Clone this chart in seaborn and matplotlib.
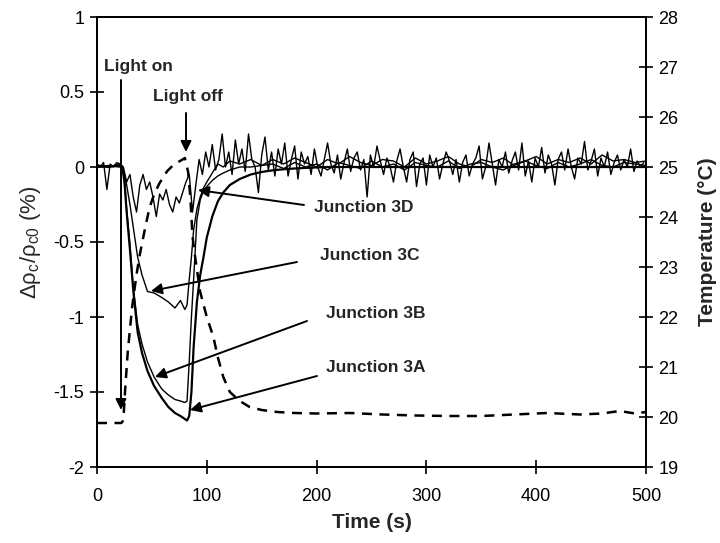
import numpy as np
import pandas as pd
import matplotlib
matplotlib.use("Agg")
import matplotlib.pyplot as plt
import seaborn as sns

sns.set_theme(style="white")
plt.rcParams['font.family'] = ['Liberation Sans', 'DejaVu Sans']
plt.rcParams['mathtext.fontset'] = 'custom'
plt.rcParams['mathtext.rm'] = 'Liberation Sans'
plt.rcParams['mathtext.it'] = 'Liberation Sans:italic'
plt.rcParams['mathtext.bf'] = 'Liberation Sans:bold'

# ---- data ----
t_main = [0, 10, 20, 23, 25, 27, 30, 33, 37, 41, 46, 52, 59, 65, 71, 76, 80, 82, 84, 86,
          88, 91, 94, 97, 100, 105, 110, 115, 121, 130, 140, 150,
          160, 170, 180, 190, 200, 210, 220, 230, 240, 250, 260, 270, 280, 290, 300,
          310, 320, 330, 340, 350, 360, 370, 380, 390, 400, 410, 420, 430, 440, 450,
          460, 470, 480, 490, 500]

j3a = [0.01, 0.0, 0.01, 0.0, -0.1, -0.3, -0.55, -0.82, -1.1, -1.24, -1.36, -1.46, -1.54, -1.6, -1.64, -1.66, -1.68, -1.69, -1.66, -1.5,
       -1.2, -0.9, -0.72, -0.6, -0.47, -0.33, -0.23, -0.17, -0.12, -0.08, -0.05, -0.033,
       -0.022, -0.015, -0.01, -0.006, -0.003, 0.0, 0.0, 0.0, 0.0, 0.0, 0.0, 0.0, 0.0, 0.0, 0.0,
       0.0, 0.0, 0.0, 0.0, 0.0, 0.0, 0.0, 0.0, 0.0, 0.0, 0.0, 0.0, 0.0, 0.0, 0.0,
       0.0, 0.0, 0.0, 0.0, 0.0]

j3b = [0.0, 0.01, 0.0, 0.0, -0.08, -0.28, -0.52, -0.8, -1.05, -1.18, -1.3, -1.4, -1.48, -1.52, -1.55, -1.56, -1.57, -1.56, -1.3, -1.0,
       -0.75, -0.35, -0.22, -0.16, -0.13, -0.09, -0.06, -0.04, -0.02, 0.0, 0.0, 0.01,
       0.02, -0.01, 0.03, 0.0, 0.02, -0.02, 0.03, 0.01, -0.01, 0.04, 0.0, 0.02, -0.02, 0.03, 0.01,
       0.0, 0.04, -0.01, 0.02, 0.03, 0.0, -0.02, 0.02, 0.04, 0.01, -0.01, 0.03, 0.0, 0.02, 0.05,
       0.01, 0.0, 0.03, 0.02, 0.01]

j3c = [0.01, 0.0, 0.02, 0.0, -0.05, -0.12, -0.25, -0.4, -0.6, -0.72, -0.83, -0.84, -0.87, -0.9, -0.94, -0.89, -0.95, -0.92, -0.75, -0.6,
       -0.42, -0.28, -0.2, -0.14, -0.1, -0.04, 0.02, 0.0, 0.04, 0.02, 0.05, 0.01,
       0.05, 0.02, 0.06, 0.03, 0.0, 0.05, 0.02, 0.07, 0.03, 0.01, 0.05, 0.04, 0.0, 0.06, 0.02,
       0.04, 0.07, 0.02, 0.0, 0.05, 0.03, 0.06, 0.01, 0.04, 0.07, 0.02, 0.05, 0.03, 0.06, 0.02,
       0.08, 0.04, 0.05, 0.03, 0.04]

t_3d = np.arange(0, 499, 3)
j3d = [0.02, 0.0, 0.03, -0.15, 0.02, 0.0, 0.03, 0.02, 0.0, -0.1,
       -0.05, -0.2, -0.3, -0.12, -0.05, -0.15, -0.1, -0.2, -0.33, -0.18,
       -0.22, -0.15, -0.25, -0.3, -0.2, -0.24, -0.17, -0.1, -0.05, -0.3,
       -0.12, 0.05, -0.05, 0.1, 0.0, 0.15, -0.02, 0.05, 0.22, 0.0,
       0.1, -0.05, 0.18, 0.02, 0.12, -0.03, 0.22, 0.05, 0.0, -0.17,
       0.08, 0.2, -0.02, 0.1, -0.06, 0.12, 0.02, 0.16, -0.06, 0.05,
       0.14, -0.08, 0.1, 0.02, 0.07, -0.05, 0.12, 0.0, -0.06, 0.05,
       0.16, 0.02, -0.04, 0.08, -0.08, 0.03, 0.12, -0.03, 0.06, 0.1,
       -0.02, 0.05, -0.2, 0.08, 0.0, 0.14, 0.04, -0.05, 0.06, 0.0,
       -0.1, 0.04, 0.12, 0.0, -0.1, 0.05, 0.1, -0.13, 0.02, 0.06,
       -0.12, 0.08, 0.0, 0.06, -0.08, 0.02, 0.1, 0.04, -0.05, 0.05,
       -0.1, 0.03, 0.08, -0.06, 0.02, 0.06, 0.14, -0.08, 0.0, 0.16,
       0.02, -0.12, 0.05, 0.0, 0.1, -0.04, 0.04, 0.1, -0.02, 0.16,
       -0.06, 0.04, -0.1, 0.06, 0.0, 0.13, -0.04, 0.08, 0.02, -0.12,
       0.05, 0.1, -0.02, 0.12, 0.0, -0.08, 0.06, 0.02, 0.17, -0.02,
       0.04, 0.12, -0.06, 0.06, 0.0, 0.1, -0.05, 0.03, 0.08, -0.02,
       0.05, 0.0, 0.12, -0.03, 0.04, 0.0, 0.03]

t_temp = [0, 10, 20, 22, 23, 24, 25.5, 28, 32, 36, 39, 44, 48, 52, 57, 64, 70, 74, 78, 80,
          83, 85, 87, 90, 94, 100, 106, 110, 115, 121, 130, 139, 150, 164, 180, 200, 230,
          260, 290, 320, 350, 380, 410, 440, 460, 476, 490, 500]
temp = [19.88, 19.88, 19.88, 19.88, 19.9, 19.94, 20.5, 21.3, 22.2, 22.85, 23.25, 23.8, 24.2, 24.45, 24.68, 24.92, 25.05, 25.1, 25.15, 25.18,
        24.9, 24.4, 23.6, 23.1, 22.5, 22.0, 21.6, 21.2, 20.8, 20.5, 20.32, 20.2, 20.14, 20.1, 20.08, 20.07, 20.08,
        20.05, 20.03, 20.02, 20.02, 20.05, 20.08, 20.05, 20.07, 20.12, 20.07, 20.1]

x_ticks = [0, 100, 200, 300, 400, 500]
y_ticks = [-2, -1.5, -1, -0.5, 0, 0.5, 1]
y_tick_labels = ["-2", "-1.5", "-1", "-0.5", "0", "0.5", "1"]
t_ticks = list(range(19, 29))

# ---- figure ----
fig = plt.figure(figsize=(7.2, 5.43), dpi=100)
ax = fig.add_axes([97/720, 1 - 467/543, (646-97)/720, (467-17)/543])
ax2 = ax.twinx()

sns.lineplot(x=t_3d, y=j3d, ax=ax, color='black', lw=1.0, estimator=None)
sns.lineplot(x=t_main, y=j3c, ax=ax, color='black', lw=1.0, estimator=None)
sns.lineplot(x=t_main, y=j3b, ax=ax, color='black', lw=1.0, estimator=None)
sns.lineplot(x=t_main, y=j3a, ax=ax, color='black', lw=1.6, estimator=None)
sns.lineplot(x=t_temp, y=temp, ax=ax2, color='black', lw=1.8, estimator=None,
             linestyle=(0, (4, 3)))

ax.set_xlim(0, 500)
ax.set_ylim(-2, 1)
ax2.set_ylim(19, 28)
ax.set_xticks(x_ticks)
ax.set_xticklabels([str(v) for v in x_ticks])
ax.set_yticks(y_ticks)
ax.set_yticklabels(y_tick_labels)
ax2.set_yticks(t_ticks)
ax2.set_yticklabels([str(v) for v in t_ticks])

for a in (ax, ax2):
    for s in a.spines.values():
        s.set_color('black')
        s.set_linewidth(1.4)
ax.tick_params(axis='both', direction='inout', length=10, width=1.2, colors='black',
               labelsize=13, left=True, bottom=True, pad=4)
ax.tick_params(axis='x', pad=10)
ax2.tick_params(axis='y', direction='inout', length=10, width=1.2, colors='black',
                labelsize=13, right=True, pad=4)

ax.set_xlabel('Time (s)', fontsize=15, fontweight='bold', labelpad=6)
ax.set_ylabel(r'$\mathrm{\Delta\rho_c/\rho_{c0}}$ (%)', fontsize=16, labelpad=8)
ax2.set_ylabel('Temperature (°C)', fontsize=15, fontweight='bold', labelpad=14)

def px(x, y):
    return ((x - 97) / 1.098, 1 - (y - 17) / 150)

ap = dict(arrowstyle='-|>', mutation_scale=16, lw=1.4, color='black', shrinkA=0, shrinkB=0)
fs = 12.5
ax.annotate('', xy=px(121, 410), xytext=px(121, 80), arrowprops=ap)
ax.text(*px(104, 67), 'Light on', fontsize=fs, fontweight='bold', ha='left', va='center')
ax.annotate('', xy=px(186, 152), xytext=px(186, 113), arrowprops=ap)
ax.text(*px(188, 97), 'Light off', fontsize=fs, fontweight='bold', ha='center', va='center')

ax.annotate('', xy=px(198, 190), xytext=px(304, 205), arrowprops=ap)
ax.text(*px(314, 208), 'Junction 3D', fontsize=fs, fontweight='bold', ha='left', va='center')
ax.annotate('', xy=px(151, 291), xytext=px(297, 262), arrowprops=ap)
ax.text(*px(320, 256), 'Junction 3C', fontsize=fs, fontweight='bold', ha='left', va='center')
ax.annotate('', xy=px(155, 377), xytext=px(307, 321), arrowprops=ap)
ax.text(*px(326, 314), 'Junction 3B', fontsize=fs, fontweight='bold', ha='left', va='center')
ax.annotate('', xy=px(190, 410), xytext=px(317, 376), arrowprops=ap)
ax.text(*px(326, 368), 'Junction 3A', fontsize=fs, fontweight='bold', ha='left', va='center')

fig.savefig('out.png', dpi=100)
